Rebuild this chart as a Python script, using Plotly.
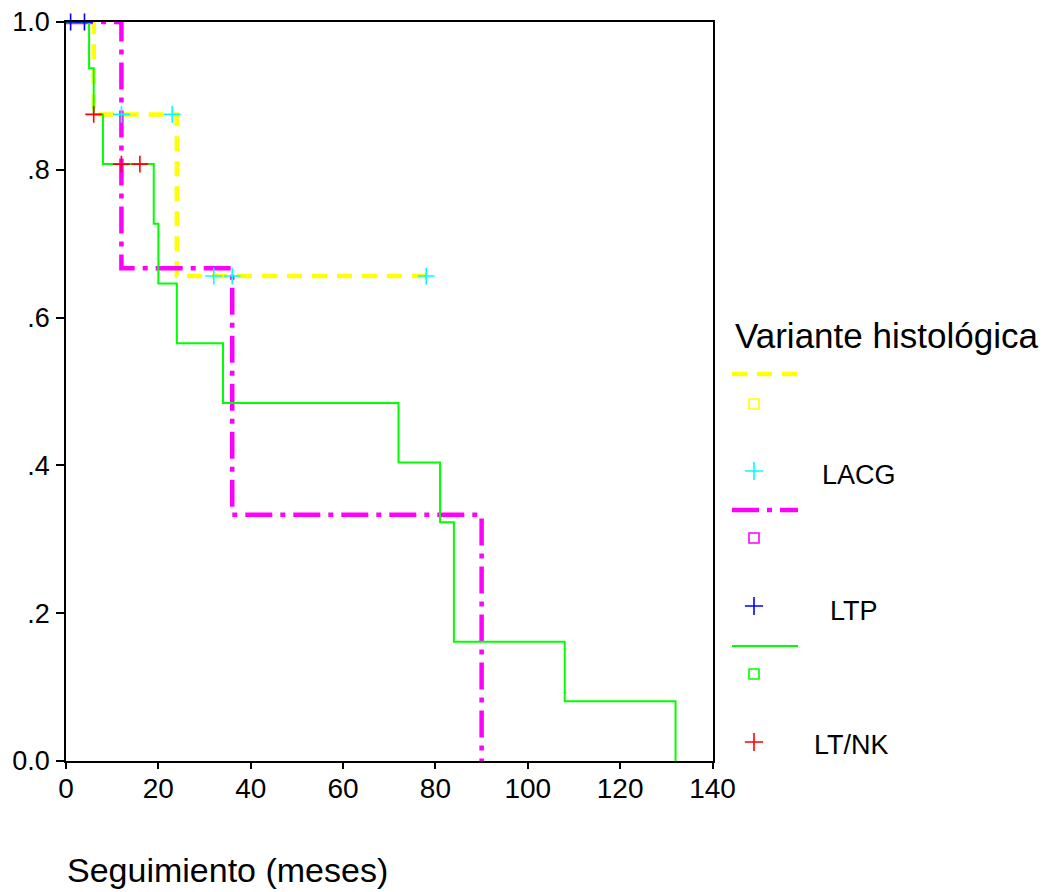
import plotly.graph_objects as go

# ---------------- data ----------------
lacg_t = [0, 6, 24, 78]
lacg_s = [1.0, 0.875, 0.65625, 0.65625]
lacg_cens_t = [12, 23, 32, 36, 78]
lacg_cens_s = [0.875, 0.875, 0.65625, 0.65625, 0.65625]

ltp_t = [0, 12, 36, 90]
ltp_s = [1.0, 0.6667, 0.3333, 0.0]
ltp_cens_t = [1, 4]
ltp_cens_s = [1.0, 1.0]

ltnk_t = [0, 5, 6, 8, 19, 20, 24, 34, 72, 81, 84, 108, 132]
ltnk_s = [1.0, 0.9375, 0.875, 0.8077, 0.7269, 0.6462, 0.5654, 0.4846,
          0.4038, 0.3231, 0.1615, 0.0808, 0.0]
ltnk_cens_t = [6, 12, 16]
ltnk_cens_s = [0.875, 0.8077, 0.8077]

group_labels = ["LACG", "LTP", "LT/NK"]
legend_title = "Variante histológica"
x_title = "Seguimiento (meses)"
x_ticks = [0, 20, 40, 60, 80, 100, 120, 140]
y_ticks = [0.0, 0.2, 0.4, 0.6, 0.8, 1.0]
y_ticktext = ["0.0", ".2", ".4", ".6", ".8", "1.0"]

# ---------------- styles ----------------
FONT = "Liberation Sans, Arial, sans-serif"
YEL, MAG, GRN = "#ffff00", "#ff00ff", "#00ff00"
CYA, BLU, RED = "#00ffff", "#0000ff", "#ff0000"
YEL_DASH = "15px,10px"
MAG_DASH = "27px,8px,5px,8px"

W, H = 1047, 892
ML, MR, MT, MB = 66, 5, 22, 131
plot_w = W - ML - MR
main_right_px = 712.5
dom_split = (main_right_px - ML) / plot_w

fig = go.Figure()

# survival curves (main axes)
fig.add_trace(go.Scatter(x=lacg_t, y=lacg_s, mode="lines", line_shape="hv",
                         line=dict(color=YEL, width=4.5, dash=YEL_DASH),
                         showlegend=False, hoverinfo="skip"))
fig.add_trace(go.Scatter(x=ltp_t, y=ltp_s, mode="lines", line_shape="hv",
                         line=dict(color=MAG, width=4.5, dash=MAG_DASH),
                         showlegend=False, hoverinfo="skip"))
fig.add_trace(go.Scatter(x=ltnk_t, y=ltnk_s, mode="lines", line_shape="hv",
                         line=dict(color=GRN, width=2),
                         showlegend=False, hoverinfo="skip"))

def cens(xs, ys, col):
    return go.Scatter(x=xs, y=ys, mode="markers", cliponaxis=False,
                      marker=dict(symbol="cross-thin", size=12, color=col,
                                  line=dict(color=col, width=1.6)),
                      showlegend=False, hoverinfo="skip")

fig.add_trace(cens(lacg_cens_t, lacg_cens_s, CYA))
fig.add_trace(cens(ltp_cens_t, ltp_cens_s, BLU))
fig.add_trace(cens(ltnk_cens_t, ltnk_cens_s, RED))

# ---------------- custom legend (pixel-scaled helper axes) ----------------
leg_line_x = [732, 798]
leg_mark_x = 754
leg_items = [
    # (line y, line style, square colour, square y, cross y, cross colour, label idx, label x, label y)
    (374, dict(color=YEL, width=4.5, dash=YEL_DASH), YEL, 404, 471, CYA, 0, 820, 475),
    (510, dict(color=MAG, width=4.5, dash=MAG_DASH), MAG, 538, 606, BLU, 1, 828, 611),
    (646, dict(color=GRN, width=2), GRN, 674, 742, RED, 2, 812, 745),
]
annotations = []
for ly, lstyle, sqcol, sqy, cy, ccol, li, lx, lyy in leg_items:
    fig.add_trace(go.Scatter(x=leg_line_x, y=[ly, ly], mode="lines", line=lstyle,
                             xaxis="x2", yaxis="y2", showlegend=False,
                             hoverinfo="skip", cliponaxis=False))
    fig.add_trace(go.Scatter(x=[leg_mark_x], y=[sqy], mode="markers",
                             marker=dict(symbol="square-open", size=10, color=sqcol,
                                         line=dict(color=sqcol, width=1.6)),
                             xaxis="x2", yaxis="y2", showlegend=False,
                             hoverinfo="skip", cliponaxis=False))
    fig.add_trace(go.Scatter(x=[leg_mark_x], y=[cy], mode="markers",
                             marker=dict(symbol="cross-thin", size=13, color=ccol,
                                         line=dict(color=ccol, width=1.6)),
                             xaxis="x2", yaxis="y2", showlegend=False,
                             hoverinfo="skip", cliponaxis=False))
    annotations.append(dict(x=lx, y=lyy, xref="x2", yref="y2", text=group_labels[li],
                            showarrow=False, xanchor="left", yanchor="middle",
                            font=dict(family=FONT, size=27, color="black")))

annotations.append(dict(x=733, y=335, xref="x2", yref="y2", text=legend_title,
                        showarrow=False, xanchor="left", yanchor="middle",
                        font=dict(family=FONT, size=35, color="black")))
annotations.append(dict(x=(65 - ML) / plot_w, y=(H - MB - 870) / (H - MT - MB),
                        xref="paper", yref="paper", text=x_title,
                        showarrow=False, xanchor="left", yanchor="middle",
                        font=dict(family=FONT, size=34, color="black")))

fig.update_layout(
    template="none",
    width=W, height=H, autosize=False,
    margin=dict(l=ML, r=MR, t=MT, b=MB, pad=0, autoexpand=False),
    paper_bgcolor="white", plot_bgcolor="white",
    showlegend=False,
    font=dict(family=FONT, color="black"),
    xaxis=dict(domain=[0, dom_split], range=[0, 140], tickvals=x_ticks,
               ticks="outside", ticklen=6, tickwidth=1.5, tickcolor="black",
               showline=True, linecolor="black", linewidth=1.5, mirror=True,
               showgrid=False, zeroline=False, automargin=False,
               ticklabelstandoff=-4,
               tickfont=dict(family=FONT, size=28, color="black")),
    yaxis=dict(domain=[0, 1], range=[0, 1], tickvals=y_ticks, ticktext=y_ticktext,
               ticks="outside", ticklen=8, tickwidth=1.5, tickcolor="black",
               showline=True, linecolor="black", linewidth=1.5, mirror=True,
               showgrid=False, zeroline=False, ticklabelstandoff=1, automargin=False,
               tickfont=dict(family=FONT, size=27, color="black")),
    xaxis2=dict(domain=[dom_split, 1], range=[main_right_px, W - MR],
                visible=False, anchor="y2", automargin=False),
    yaxis2=dict(domain=[0, 1], range=[H - MB, MT], visible=False,
                anchor="x2", automargin=False),
    annotations=annotations,
)

fig.write_html(
    "out.html",
    config={"responsive": False, "displayModeBar": False},
    post_script="document.body.style.margin='0';document.body.style.padding='0';"
                "document.documentElement.style.overflow='hidden';"
                "document.body.style.overflow='hidden';",
)
